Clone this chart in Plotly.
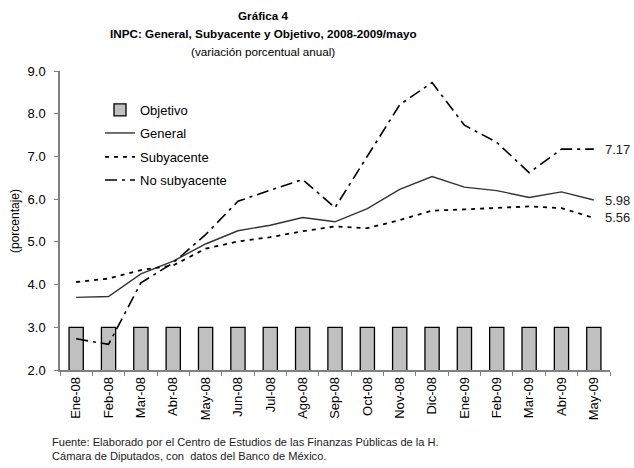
import plotly.graph_objects as go

categories = ["Ene-08", "Feb-08", "Mar-08", "Abr-08", "May-08", "Jun-08", "Jul-08", "Ago-08",
              "Sep-08", "Oct-08", "Nov-08", "Dic-08", "Ene-09", "Feb-09", "Mar-09", "Abr-09", "May-09"]
objetivo = [3.0] * 17
general = [3.70, 3.72, 4.25, 4.55, 4.95, 5.26, 5.39, 5.57, 5.47, 5.78, 6.23, 6.53, 6.28, 6.20, 6.04, 6.17, 5.98]
subyacente = [4.06, 4.14, 4.34, 4.45, 4.84, 5.01, 5.11, 5.25, 5.36, 5.32, 5.51, 5.73, 5.76, 5.79, 5.83, 5.79, 5.56]
no_subyacente = [2.73, 2.60, 4.04, 4.51, 5.17, 5.95, 6.21, 6.46, 5.80, 7.02, 8.21, 8.73, 7.73, 7.33, 6.62, 7.17, 7.17]

FONT = "Liberation Sans, Arial, sans-serif"

W, H = 634, 468
PL, PR, PT, PB = 60, 610, 71, 370  # plot area in window pixels


def px(X):
    return (X - PL) / (PR - PL)


def py(Y):
    return 1 - (Y - PT) / (PB - PT)


fig = go.Figure()
fig.add_trace(go.Bar(x=categories, y=objetivo, name="Objetivo", base=0, width=0.44,
                     marker=dict(color="#c0c0c0", line=dict(color="black", width=1.3)),
                     legend="legend"))
fig.add_trace(go.Scatter(x=categories, y=general, name="General", mode="lines",
                         line=dict(color="#333333", width=1.4), legend="legend2"))
fig.add_trace(go.Scatter(x=categories, y=subyacente, name="Subyacente", mode="lines",
                         line=dict(color="black", width=1.8, dash="4px,5px"), legend="legend3"))
fig.add_trace(go.Scatter(x=categories, y=no_subyacente, name="No subyacente", mode="lines",
                         line=dict(color="black", width=1.6, dash="12px,5px,3px,5px"), legend="legend4"))

for vals, lbl in [(no_subyacente, "7.17"), (general, "5.98"), (subyacente, "5.56")]:
    fig.add_annotation(x=categories[-1], y=vals[-1], text=lbl, showarrow=False,
                       xanchor="left", xshift=9, font=dict(size=13, color="#222", family=FONT))

titles = [("<b>Gráfica 4</b>", 15), ("<b>INPC: General, Subyacente y Objetivo, 2008-2009/mayo</b>", 33),
          ("(variación porcentual anual)", 51)]
for t, ypx in titles:
    fig.add_annotation(text=t, x=px(263), xref="paper", y=py(ypx), yref="paper",
                       showarrow=False, yanchor="middle", font=dict(size=11.7, family=FONT, color="black"))

fig.add_annotation(text="Fuente: Elaborado por el Centro de Estudios de las Finanzas Públicas de la H.<br>"
                        "Cámara de Diputados, con  datos del Banco de México.",
                   x=px(50), xref="paper", y=py(434), yref="paper", showarrow=False,
                   xanchor="left", yanchor="top", align="left",
                   font=dict(size=11.1, family=FONT, color="#222"))

fig.add_annotation(text="(porcentaje)", x=px(15), xref="paper", y=py(221), yref="paper",
                   showarrow=False, textangle=-90, xanchor="center", yanchor="middle",
                   font=dict(size=12, family=FONT, color="black"))

leg_common = dict(xanchor="left", yanchor="middle", bgcolor="rgba(0,0,0,0)",
                  font=dict(size=13, family=FONT, color="black"))
legend_y = [110, 133, 157, 180]
LX = 100
fig.update_layout(
    width=W, height=H,
    margin=dict(l=PL, r=W - PR, t=PT, b=H - PB),
    paper_bgcolor="white", plot_bgcolor="white",
    font=dict(family=FONT, size=13, color="black"),
    barmode="overlay",
    showlegend=True,
    legend=dict(x=px(LX), y=py(legend_y[0]), **leg_common),
    legend2=dict(x=px(LX), y=py(legend_y[1]), **leg_common),
    legend3=dict(x=px(LX), y=py(legend_y[2]), **leg_common),
    legend4=dict(x=px(LX), y=py(legend_y[3]), **leg_common),
    xaxis=dict(type="category", range=[-0.5, 16.5], tickangle=-90, showline=True, linecolor="#808080",
               linewidth=1.5, ticks="outside", tickson="boundaries", ticklen=4, tickcolor="#808080",
               showgrid=False, automargin=False, tickfont=dict(size=13, family=FONT)),
    yaxis=dict(range=[2, 9], dtick=1, tickformat=".1f", showline=True, linecolor="#808080",
               linewidth=1.5, ticks="outside", ticklen=4, tickcolor="#808080", showgrid=False,
               zeroline=False, automargin=False, ticklabelstandoff=6,
               tickfont=dict(size=13, family=FONT)),
)

fig.write_html("out.html", config={"displayModeBar": False},
               post_script="document.body.style.margin='0';")
